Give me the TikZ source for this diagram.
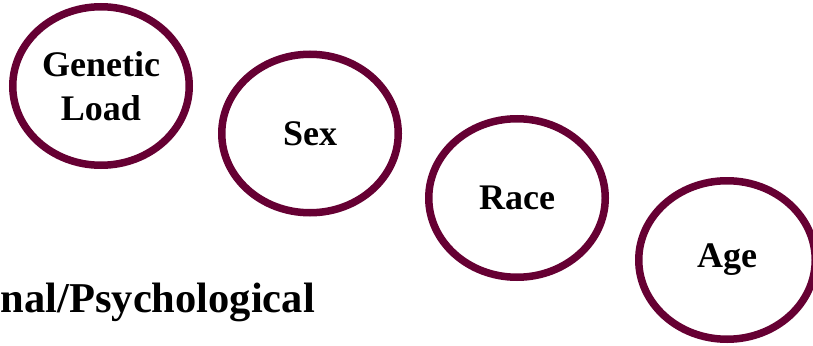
\documentclass[tikz,border=0pt]{standalone}
\usepackage{fontspec}
\setmainfont{Liberation Serif}
\usetikzlibrary{shapes.geometric}
\definecolor{maroon}{HTML}{660033}
\begin{document}
\begin{tikzpicture}[x=1pt,y=-1pt,
  factor/.style={ellipse, draw=maroon, line width=7.5pt, fill=white,
    minimum width=176.5pt, minimum height=158.5pt, inner sep=0pt,
    align=center, font=\fontsize{36}{44}\selectfont\bfseries},
  caption/.style={font=\fontsize{42.5}{50}\selectfont\bfseries, inner sep=0pt}]
\useasboundingbox (0,0) rectangle (813,345);
\clip (0,0) rectangle (813,345);
\node[factor] (gl) at (101,86) {Genetic\\Load};
\node[factor] (sex) at (310,133.5) {Sex};
\node[factor] (race) at (517,198) {Race};
\node[factor] (age) at (727,260) {Age};
\node[caption, anchor=base east] (psy) at (315,312) {nal/Psychological};
\end{tikzpicture}
\end{document}
